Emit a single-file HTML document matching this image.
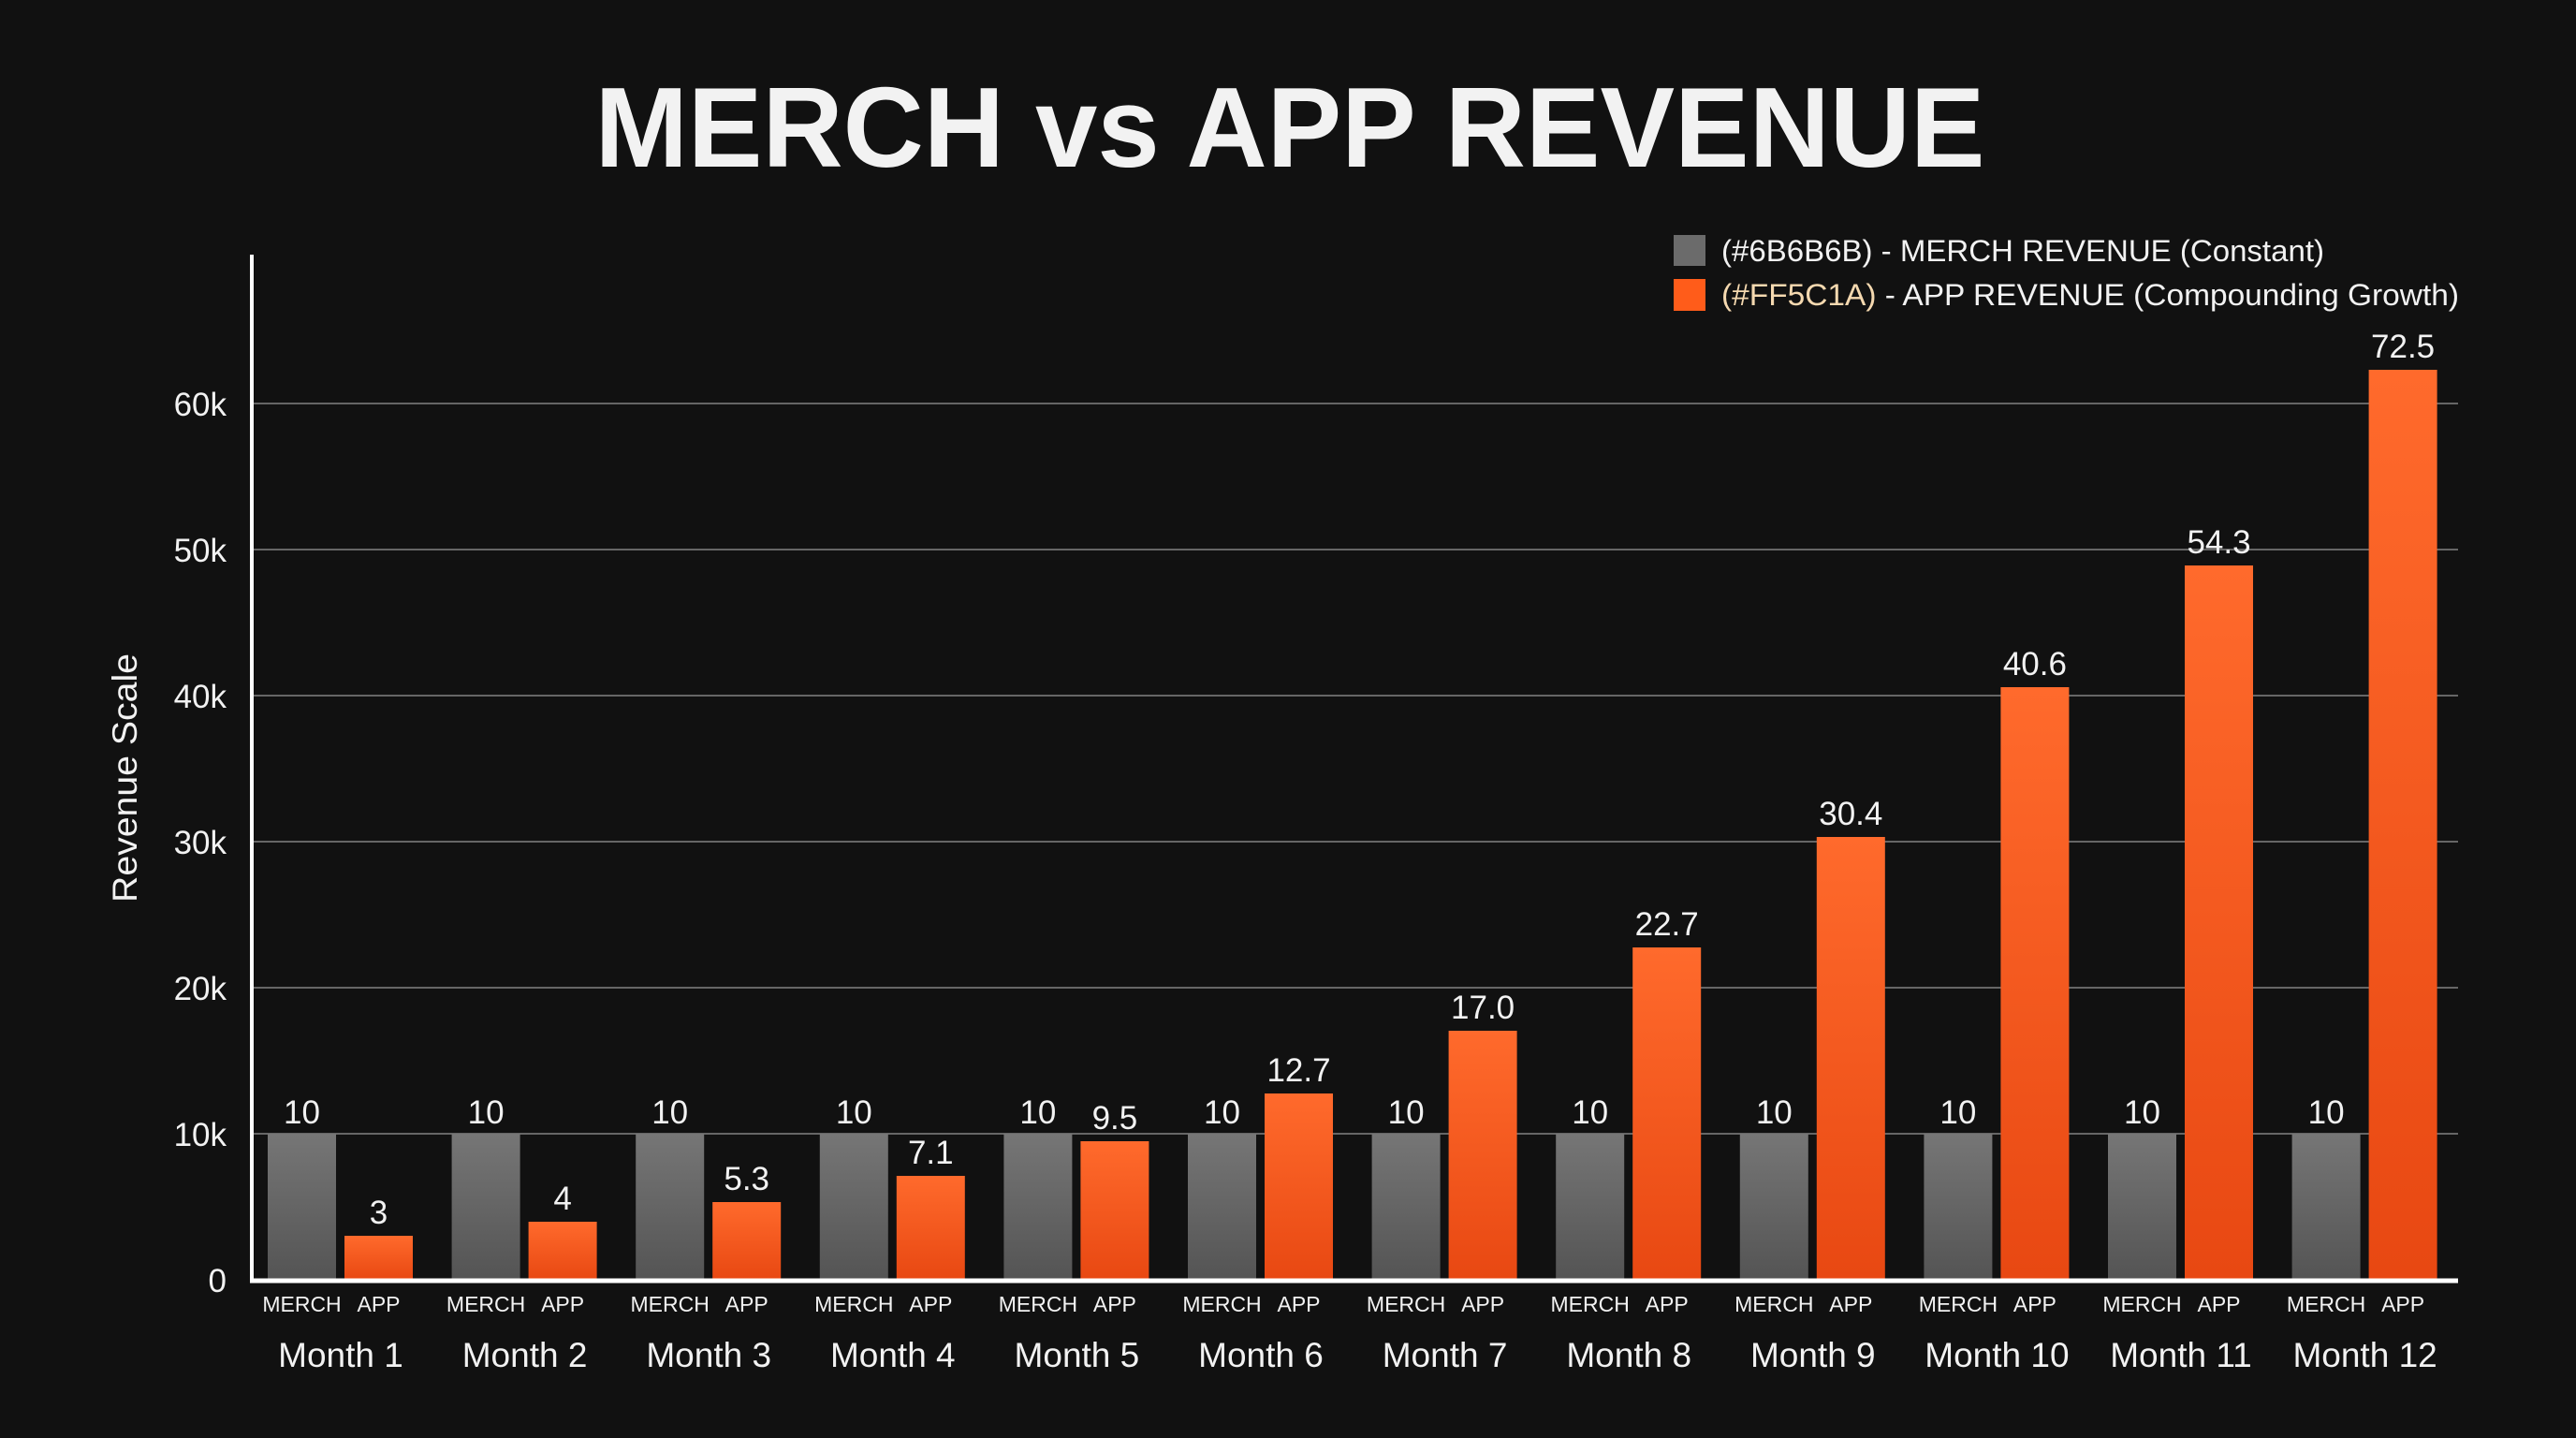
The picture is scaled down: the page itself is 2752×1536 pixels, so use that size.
<!DOCTYPE html>
<html><head><meta charset="utf-8"><style>
html,body{margin:0;padding:0;background:#111111;}
svg{display:block;}
text{font-family:"Liberation Sans",sans-serif;fill:#f2f2f2;}
</style></head><body>
<svg width="2752" height="1536" viewBox="0 0 2752 1536" xmlns="http://www.w3.org/2000/svg">
<defs>
<linearGradient id="gm" x1="0" y1="0" x2="0" y2="1"><stop offset="0" stop-color="#767676"/><stop offset="1" stop-color="#545454"/></linearGradient>
<linearGradient id="ga" x1="0" y1="0" x2="0" y2="1"><stop offset="0" stop-color="#ff6a2c"/><stop offset="1" stop-color="#e84812"/></linearGradient>
</defs>
<rect width="2752" height="1536" fill="#111111"/>
<text x="1378" y="178" text-anchor="middle" font-size="122" font-weight="bold" textLength="1485" lengthAdjust="spacingAndGlyphs">MERCH vs APP REVENUE</text>

<rect x="1788" y="251" width="34" height="33" fill="#6b6b6b"/>
<rect x="1788" y="298" width="34" height="34" fill="#ff5c1a"/>
<text x="1839" y="279" font-size="32" textLength="644" lengthAdjust="spacingAndGlyphs">(#6B6B6B) - MERCH REVENUE (Constant)</text>
<text x="1839" y="326" font-size="32" textLength="788" lengthAdjust="spacingAndGlyphs"><tspan style="fill:#f5d9b0">(#FF5C1A)</tspan> - APP REVENUE (Compounding Growth)</text>

<g stroke="#666" stroke-width="2">
<line x1="271" y1="1211" x2="2626" y2="1211"/>
<line x1="271" y1="1055" x2="2626" y2="1055"/>
<line x1="271" y1="899" x2="2626" y2="899"/>
<line x1="271" y1="743" x2="2626" y2="743"/>
<line x1="271" y1="587" x2="2626" y2="587"/>
<line x1="271" y1="431" x2="2626" y2="431"/>
</g>
<g font-size="35" text-anchor="end">
<text x="242" y="1380">0</text>
<text x="242" y="1224">10k</text>
<text x="242" y="1068">20k</text>
<text x="242" y="912">30k</text>
<text x="242" y="756">40k</text>
<text x="242" y="600">50k</text>
<text x="242" y="444">60k</text>
</g>
<text transform="translate(146,831) rotate(-90)" text-anchor="middle" font-size="37" textLength="266" lengthAdjust="spacingAndGlyphs">Revenue Scale</text>

<g fill="url(#gm)">
<rect x="286" y="1211" width="73" height="156"/>
<rect x="482.6" y="1211" width="73" height="156"/>
<rect x="679.2" y="1211" width="73" height="156"/>
<rect x="875.8" y="1211" width="73" height="156"/>
<rect x="1072.4" y="1211" width="73" height="156"/>
<rect x="1269" y="1211" width="73" height="156"/>
<rect x="1465.6" y="1211" width="73" height="156"/>
<rect x="1662.2" y="1211" width="73" height="156"/>
<rect x="1858.8" y="1211" width="73" height="156"/>
<rect x="2055.4" y="1211" width="73" height="156"/>
<rect x="2252" y="1211" width="73" height="156"/>
<rect x="2448.6" y="1211" width="73" height="156"/>
</g>
<g fill="url(#ga)">
<rect x="368" y="1320" width="73" height="47"/>
<rect x="564.6" y="1305" width="73" height="62"/>
<rect x="761.2" y="1284" width="73" height="83"/>
<rect x="957.8" y="1256" width="73" height="111"/>
<rect x="1154.4" y="1219" width="73" height="148"/>
<rect x="1351" y="1168" width="73" height="199"/>
<rect x="1547.6" y="1101" width="73" height="266"/>
<rect x="1744.2" y="1012" width="73" height="355"/>
<rect x="1940.8" y="894" width="73" height="473"/>
<rect x="2137.4" y="734" width="73" height="633"/>
<rect x="2334" y="604" width="73" height="763"/>
<rect x="2530.6" y="395" width="73" height="972"/>
</g>
<line x1="269" y1="272" x2="269" y2="1369" stroke="#fff" stroke-width="4"/>
<line x1="267" y1="1368" x2="2626" y2="1368" stroke="#fff" stroke-width="5"/>

<g font-size="35" text-anchor="middle">
<text x="322.5" y="1200">10</text><text x="519.1" y="1200">10</text><text x="715.7" y="1200">10</text><text x="912.3" y="1200">10</text><text x="1108.9" y="1200">10</text><text x="1305.5" y="1200">10</text><text x="1502.1" y="1200">10</text><text x="1698.7" y="1200">10</text><text x="1895.3" y="1200">10</text><text x="2091.9" y="1200">10</text><text x="2288.5" y="1200">10</text><text x="2485.1" y="1200">10</text>
<text x="404.5" y="1307">3</text>
<text x="601.1" y="1292">4</text>
<text x="797.7" y="1271">5.3</text>
<text x="994.3" y="1243">7.1</text>
<text x="1190.9" y="1206">9.5</text>
<text x="1387.5" y="1155">12.7</text>
<text x="1584.1" y="1088">17.0</text>
<text x="1780.7" y="999">22.7</text>
<text x="1977.3" y="881">30.4</text>
<text x="2173.9" y="721">40.6</text>
<text x="2370.5" y="591">54.3</text>
<text x="2567.1" y="382">72.5</text>
</g>
<g font-size="23" text-anchor="middle">
<text x="322.5" y="1401">MERCH</text><text x="404.5" y="1401">APP</text>
<text x="519.1" y="1401">MERCH</text><text x="601.1" y="1401">APP</text>
<text x="715.7" y="1401">MERCH</text><text x="797.7" y="1401">APP</text>
<text x="912.3" y="1401">MERCH</text><text x="994.3" y="1401">APP</text>
<text x="1108.9" y="1401">MERCH</text><text x="1190.9" y="1401">APP</text>
<text x="1305.5" y="1401">MERCH</text><text x="1387.5" y="1401">APP</text>
<text x="1502.1" y="1401">MERCH</text><text x="1584.1" y="1401">APP</text>
<text x="1698.7" y="1401">MERCH</text><text x="1780.7" y="1401">APP</text>
<text x="1895.3" y="1401">MERCH</text><text x="1977.3" y="1401">APP</text>
<text x="2091.9" y="1401">MERCH</text><text x="2173.9" y="1401">APP</text>
<text x="2288.5" y="1401">MERCH</text><text x="2370.5" y="1401">APP</text>
<text x="2485.1" y="1401">MERCH</text><text x="2567.1" y="1401">APP</text>
</g>
<g font-size="37" text-anchor="middle">
<text x="364" y="1460">Month 1</text>
<text x="560.6" y="1460">Month 2</text>
<text x="757.2" y="1460">Month 3</text>
<text x="953.8" y="1460">Month 4</text>
<text x="1150.4" y="1460">Month 5</text>
<text x="1347" y="1460">Month 6</text>
<text x="1543.6" y="1460">Month 7</text>
<text x="1740.2" y="1460">Month 8</text>
<text x="1936.8" y="1460">Month 9</text>
<text x="2133.4" y="1460">Month 10</text>
<text x="2330" y="1460">Month 11</text>
<text x="2526.6" y="1460">Month 12</text>
</g>
</svg>
</body></html>
